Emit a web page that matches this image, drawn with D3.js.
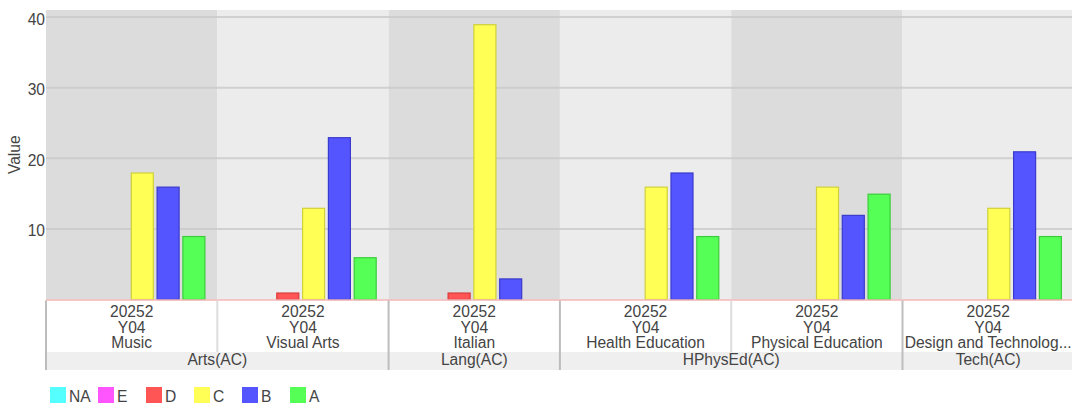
<!DOCTYPE html>
<html><head><meta charset="utf-8">
<script src="https://cdn.jsdelivr.net/npm/d3@7"></script>
<style>
html,body{margin:0;padding:0;background:#fff;}
text{font-family:"Liberation Sans",Arial,sans-serif;fill:#444;}
</style></head>
<body><svg id="c" width="1072" height="408"></svg>
<script>
const categories = ["Music","Visual Arts","Italian","Health Education","Physical Education","Design and Technolog..."];
const catLine1 = ["20252","20252","20252","20252","20252","20252"];
const catLine2 = ["Y04","Y04","Y04","Y04","Y04","Y04"];
const groups = ["Arts(AC)","Lang(AC)","HPhysEd(AC)","Tech(AC)"];
const groupOf = [0,0,1,2,2,3];
const seriesNames = ["NA","E","D","C","B","A"];
const seriesFill = ["#55ffff","#ff55ff","#ff5555","#ffff55","#5555ff","#55ff55"];
const seriesStroke = ["#33cccc","#cc33cc","#d83a3a","#d0d03a","#3a3acc","#3acc3a"];
const valuesNA = [0,0,0,0,0,0];
const valuesE  = [0,0,0,0,0,0];
const valuesD  = [0,1,1,0,0,0];
const valuesC  = [18,13,39,16,16,13];
const valuesB  = [16,23,3,18,12,21];
const valuesA  = [9,6,0,9,15,9];
const yTicks = [10,20,30,40];
const yLabel = "Value";

(function(){
const FS = 15.6;
const series = [valuesNA,valuesE,valuesD,valuesC,valuesB,valuesA];
const svg = d3.select("#c");
const left = 46, bandW = 171.3, plotTop = 10, base = 299.5;
const x0 = d3.scaleBand().domain(d3.range(categories.length)).range([left, left + bandW*categories.length]).padding(0);
const x1 = d3.scaleBand().domain(d3.range(seriesNames.length)).range([7.3, 159.5]).paddingInner(0.1).paddingOuter(0);
const y = d3.scaleLinear().domain([0, 41]).range([base, plotTop]);

svg.append("g").selectAll("rect").data(categories).join("rect")
  .attr("x", (d,i)=>x0(i)).attr("y", plotTop).attr("width", x0.bandwidth()).attr("height", base-plotTop)
  .attr("fill", (d,i)=> i%2===0 ? "#dcdcdc" : "#ececec");

svg.append("g").selectAll("line").data(yTicks).join("line")
  .attr("x1", left).attr("x2", 1072).attr("y1", d=>y(d)).attr("y2", d=>y(d))
  .attr("stroke", "#cacaca").attr("stroke-width", 2).attr("opacity", 0.8);

const yAxis = d3.axisLeft(y).tickValues(yTicks).tickSize(0).tickPadding(1);
const ya = svg.append("g").attr("transform", `translate(${left},0)`).call(yAxis);
ya.select(".domain").remove();
ya.selectAll("text").attr("font-size", FS).attr("fill", "#444").style("font-family","Liberation Sans, Arial, sans-serif").attr("dy","0.45em");

svg.append("text").attr("transform", `translate(20,${(plotTop+base)/2}) rotate(-90)`)
  .attr("text-anchor","middle").attr("font-size",FS).text(yLabel);

const bars = [];
categories.forEach((c,i)=>series.forEach((s,j)=>{ if(s[i]>0) bars.push({i,j,v:s[i]}); }));
svg.append("g").selectAll("rect").data(bars).join("rect")
  .attr("x", d=>x0(d.i)+x1(d.j)+0.6).attr("y", d=>y(d.v)+0.6)
  .attr("width", x1.bandwidth()-1.2).attr("height", d=>base-y(d.v)-0.6)
  .attr("fill", d=>seriesFill[d.j]).attr("stroke", d=>seriesStroke[d.j]).attr("stroke-width",1.2);

const g2 = svg.append("g");
g2.append("rect").attr("x", left).attr("y", 352).attr("width", 1072-left).attr("height", 18).attr("fill", "#efefef");
g2.append("line").attr("x1", left).attr("x2", 1072).attr("y1", base+0.5).attr("y2", base+0.5).attr("stroke", "#f3b4b4").attr("stroke-width", 1.5);
categories.forEach((c,i)=>{
  const xx = x0(i);
  const isGroupStart = i===0 || groupOf[i]!==groupOf[i-1];
  g2.append("line").attr("x1", xx).attr("x2", xx).attr("y1", base+1).attr("y2", isGroupStart ? 370 : 352)
    .attr("stroke", isGroupStart ? "#bdbdbd" : "#dddddd").attr("stroke-width", 2);
});
const lab = g2.selectAll("text.cat").data(categories).join("text").attr("class","cat")
  .attr("text-anchor","middle").attr("font-size",FS)
  .attr("transform",(d,i)=>`translate(${x0(i)+x0.bandwidth()/2},0)`);
lab.append("tspan").attr("x",0).attr("y",316.5).text((d,i)=>catLine1[i]);
lab.append("tspan").attr("x",0).attr("y",332.5).text((d,i)=>catLine2[i]);
lab.append("tspan").attr("x",0).attr("y",348).text(d=>d);
groups.forEach((gname,gi)=>{
  const idx = groupOf.map((g,i)=>g===gi?i:-1).filter(i=>i>=0);
  const x1p = x0(idx[0]), x2p = x0(idx[idx.length-1]) + x0.bandwidth();
  g2.append("text").attr("x",(x1p+x2p)/2).attr("y",364.5).attr("text-anchor","middle").attr("font-size",FS).text(gname);
});

const lg = svg.append("g").selectAll("g").data(seriesNames).join("g")
  .attr("transform",(d,i)=>`translate(${50+i*48},387)`);
lg.append("rect").attr("width",16).attr("height",16).attr("fill",(d,i)=>seriesFill[i]);
lg.append("text").attr("x",19).attr("y",14.5).attr("font-size",FS).text(d=>d);
})();
</script></body></html>
